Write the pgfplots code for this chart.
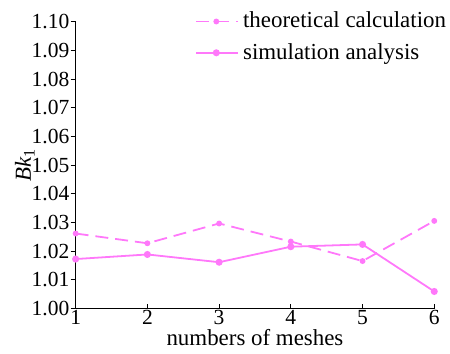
\documentclass[border=0pt]{standalone}
\usepackage{fontspec}
\setmainfont{Liberation Serif}
\usepackage{pgfplots}
\pgfplotsset{compat=1.18}
\definecolor{pinkline}{RGB}{255,120,250}
\begin{document}
\fontsize{11.5}{13}\selectfont
\begin{tikzpicture}[font=\rmfamily\fontsize{11.5}{13}\selectfont]
\begin{axis}[
  width=180pt, height=144pt, scale only axis,
  xmin=1, xmax=6, ymin=1.00, ymax=1.10,
  axis lines=left,
  axis line style={-, line width=0.6pt},
  xtick={1,2,3,4,5,6},
  ytick={1.00,1.01,1.02,1.03,1.04,1.05,1.06,1.07,1.08,1.09,1.10},
  yticklabel style={/pgf/number format/fixed, /pgf/number format/fixed zerofill, /pgf/number format/precision=2, inner sep=0.5pt},
  /pgf/number format/assume math mode=true,
  tick label style={font=\rmfamily\fontsize{10.8}{13}\selectfont},
  xtick align=inside, ytick align=outside,
  major tick length=2.5pt,
  tick style={black, line width=0.5pt},
  xticklabel style={inner sep=0.5pt},
  xlabel={numbers of meshes},
  xlabel style={yshift=2pt},
  ylabel={\textit{Bk}\textsubscript{1}},
  ylabel style={yshift=-6pt},
  legend style={at={(1.045,1.05)}, anchor=north east, draw=none, fill=none,
    inner sep=0pt, row sep=2pt, font=\rmfamily\fontsize{11.5}{13}\selectfont},
  legend cell align=left,
  legend image code/.code={
    \draw[#1, mark repeat=2, mark phase=2] plot coordinates {(0pt,0pt) (10pt,0pt) (21pt,0pt)};
  },
  clip=false,
]
\useasboundingbox (rel axis cs:-0.211,-0.153) rectangle (rel axis cs:1.039,1.076);
\addplot[pinkline, line width=0.9pt, dash pattern=on 6.5pt off 3.5pt, mark=*, mark size=1pt, mark options={solid}]
  coordinates {(1,1.0262) (2,1.0228) (3,1.0297) (4,1.0234) (5,1.0166) (6,1.0306)};
\addlegendentry{theoretical calculation}
\addplot[pinkline, line width=0.9pt, mark=*, mark size=1.3pt]
  coordinates {(1,1.0173) (2,1.0189) (3,1.0162) (4,1.0216) (5,1.0224) (6,1.0060)};
\addlegendentry{simulation analysis}
\end{axis}
\end{tikzpicture}
\end{document}
